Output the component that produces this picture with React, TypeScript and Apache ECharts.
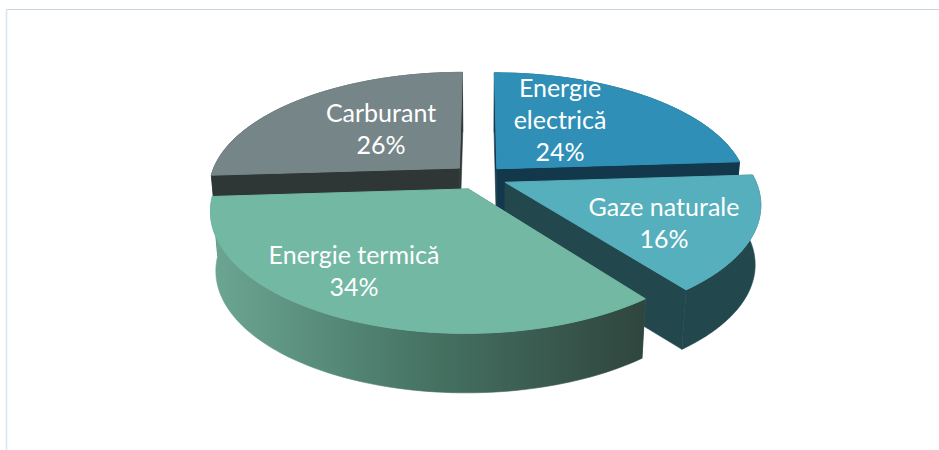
import React, { useEffect, useRef } from "react";
import * as echarts from "echarts";

const categories = ["Energie electrică", "Gaze naturale", "Energie termică", "Carburant"];
const shares = [24, 15.6, 34.4, 26];
const explode = [0.1, 0.11, 0.112, 0.115];
const drawOrder = [3, 0, 1, 2];

const CX = 480, CY = 177, RX = 249, RY = 115, PERSP = 0.172, DEPTH = 59.5, SHRINK = 0.02;
const FONT = "Lato, Carlito, 'Open Sans', sans-serif";

const tops = ["#2f8fb7", "#56afbc", "#72b8a2", "#768688"];
const cuts = ["#14384b", "#22474d", "#3f6a5a", "#2f3736"];
const labelPos = [[560, 119], [664, 222], [354, 270], [381, 128]];

function project(U: number, V: number, d: number): number[] {
  const s = 1 / (1 - PERSP * V);
  return [CX + RX * U * s * (1 - SHRINK * d), CY + RY * V * s + DEPTH * d];
}

function App() {
  const ref = useRef<HTMLDivElement>(null);
  useEffect(() => {
    const chart = echarts.init(ref.current!, null, { renderer: "svg" });
    const total = shares.reduce((a, b) => a + b, 0);
    let acc = 0;
    const rows = shares.map((v, i) => {
      const start = (acc / total) * Math.PI * 2;
      acc += v;
      return [start, (acc / total) * Math.PI * 2, explode[i], i, Math.round(v)];
    });
    const data = drawOrder.map((i) => rows[i]);

    const renderItem = (_: any, api: any) => {
      const a0 = api.value(0), a1 = api.value(1), e = api.value(2), idx = api.value(3), val = api.value(4);
      const mid = (a0 + a1) / 2;
      const ou = e * Math.sin(mid), ov = -e * Math.cos(mid);
      const arc = (d: number) => {
        const pts: number[][] = [];
        const n = 80;
        for (let k = 0; k <= n; k++) {
          const t = a0 + ((a1 - a0) * k) / n;
          pts.push(project(ou + Math.sin(t), ov - Math.cos(t), d));
        }
        return pts;
      };
      const top = arc(0), bottom = arc(1);
      const apexT = project(ou, ov, 0), apexB = project(ou, ov, 1);
      const wallFill: any = idx === 2
        ? new echarts.graphic.LinearGradient(0, 0, 1, 0, [
            { offset: 0, color: "#6ca693" },
            { offset: 0.5, color: "#467363" },
            { offset: 1, color: "#2f453d" },
          ])
        : cuts[idx];
      const solid = (c: any) => ({ fill: c, stroke: c, lineWidth: 0.6 });
      const children: any[] = [
        { type: "polygon", shape: { points: [apexT, top[0], bottom[0], apexB] }, style: solid(cuts[idx]) },
        { type: "polygon", shape: { points: [apexT, top[top.length - 1], bottom[bottom.length - 1], apexB] }, style: solid(cuts[idx]) },
        { type: "polygon", shape: { points: [...top, ...bottom.slice().reverse()] }, style: solid(wallFill) },
        { type: "polygon", shape: { points: [apexT, ...top] }, style: { fill: tops[idx], stroke: tops[idx], lineWidth: 1 } },
      ];
      const name = categories[idx];
      const text = (idx === 0 ? name.replace(" ", "\n") : name) + "\n" + val + "%";
      children.push({
        type: "text",
        x: labelPos[idx][0],
        y: labelPos[idx][1],
        style: { text, fill: "#ffffff", font: `25px ${FONT}`, align: "center", verticalAlign: "middle", lineHeight: 32 },
      });
      return { type: "group", children };
    };

    chart.setOption({
      animation: false,
      backgroundColor: "#ffffff",
      graphic: [
        { type: "line", shape: { x1: 6.5, y1: 9.5, x2: 939, y2: 9.5 }, style: { stroke: "#c9d6e2", lineWidth: 1 } },
        { type: "line", shape: { x1: 6.5, y1: 9.5, x2: 6.5, y2: 450 }, style: { stroke: "#d8e5f1", lineWidth: 1.5 } },
      ],
      series: [{ type: "custom", coordinateSystem: "none", renderItem, data, silent: true, clip: false }],
    });
    return () => chart.dispose();
  }, []);
  return <div ref={ref} style={{ position: "fixed", left: 0, top: 0, width: 939, height: 450 }} />;
}

export default App;
